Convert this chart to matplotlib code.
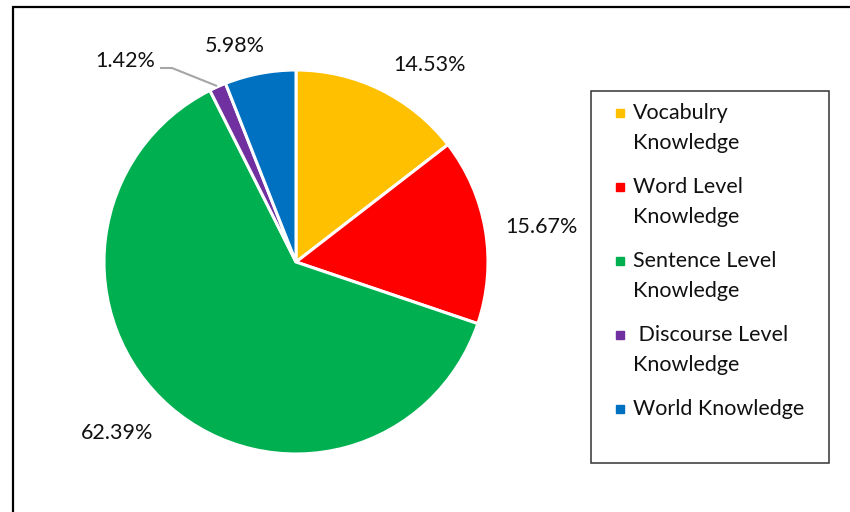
import matplotlib.pyplot as plt
from matplotlib.patches import Rectangle

categories = ["Vocabulry\nKnowledge", "Word Level\nKnowledge", "Sentence Level\nKnowledge",
              " Discourse Level\nKnowledge", "World Knowledge"]
shares = [14.53, 15.67, 62.39, 1.42, 5.98]
colors = ["#FFC000", "#FF0000", "#00B050", "#7030A0", "#0070C0"]

# label anchor points in pixel units (origin bottom-left)
label_xy = [(430, 447), (541, 285), (117, 79), (125, 451), (235, 466)]

plt.rcParams['font.family'] = ['Lato', 'DejaVu Sans']

fig = plt.figure(figsize=(8.5, 5.12), dpi=100)
ax = fig.add_axes([0, 0, 1, 1])

ax.pie(shares, colors=colors, startangle=90, counterclock=False,
       center=(296, 250), radius=192, frame=True,
       wedgeprops=dict(edgecolor='white', linewidth=2.2))
ax.set_xlim(0, 850)
ax.set_ylim(0, 512)
ax.axis('off')

for val, (x, y) in zip(shares, label_xy):
    ax.text(x, y, f"{val:.2f}%", ha='center', va='center', fontsize=15.5, color='#111111')

# leader line for the small discourse slice
ax.plot([160, 172, 217], [444, 444, 426], color='#A6A6A6', lw=1.5, solid_capstyle='butt')

# outer frame
ax.add_patch(Rectangle((13, -20), 900, 525, fill=False, edgecolor='black', lw=1.6, clip_on=False))

# legend box
ax.add_patch(Rectangle((591, 49), 238, 372, fill=False, edgecolor='#333333', lw=1.1))
y = 399
for name, c in zip(categories, colors):
    ax.plot(620, y, marker='s', markersize=6, color=c, linestyle='none')
    lines = name.split("\n")
    for i, line in enumerate(lines):
        ax.text(633, y - 30 * i, line, ha='left', va='center', fontsize=15.5, color='#111111')
    y -= 74

fig.savefig("out.png", dpi=100)
